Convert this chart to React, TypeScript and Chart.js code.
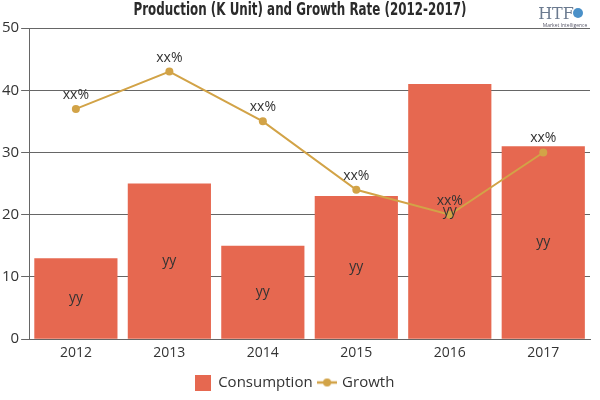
import React, { useEffect, useRef } from "react";
import { Chart, registerables } from "chart.js";

Chart.register(...registerables);

const categories = ["2012", "2013", "2014", "2015", "2016", "2017"];
const consumption = [13, 25, 15, 23, 41, 31];
const growth = [37, 43, 35, 24, 20, 30];
const barLabels = ["yy", "yy", "yy", "yy", "yy", "yy"];
const lineLabels = ["xx%", "xx%", "xx%", "xx%", "xx%", "xx%"];
const yTicks = [0, 10, 20, 30, 40, 50];
const titleText = "Production (K Unit) and Growth Rate (2012-2017)";

const BAR_COLOR = "#E66850";
const LINE_COLOR = "#D2A347";
const TEXT_COLOR = "#333333";
const FONT = "'Segoe UI', 'Open Sans', 'Noto Sans', sans-serif";

function makeIcon(kind: "box" | "line"): HTMLCanvasElement {
  const c = document.createElement("canvas");
  if (kind === "box") {
    c.width = 16;
    c.height = 16;
    const g = c.getContext("2d")!;
    g.fillStyle = BAR_COLOR;
    g.fillRect(0, 0, 16, 16);
  } else {
    c.width = 20;
    c.height = 10;
    const g = c.getContext("2d")!;
    g.strokeStyle = LINE_COLOR;
    g.lineWidth = 2.5;
    g.beginPath();
    g.moveTo(0, 5);
    g.lineTo(20, 5);
    g.stroke();
    g.fillStyle = LINE_COLOR;
    g.beginPath();
    g.arc(10, 5, 4, 0, Math.PI * 2);
    g.fill();
  }
  return c;
}

const labelPlugin = {
  id: "valueLabels",
  afterDatasetsDraw(chart: any) {
    const ctx = chart.ctx;
    ctx.save();
    ctx.font = `14px ${FONT}`;
    ctx.fillStyle = TEXT_COLOR;
    ctx.textAlign = "center";
    ctx.textBaseline = "middle";
    const barMeta = chart.getDatasetMeta(0);
    barMeta.data.forEach((el: any, i: number) => {
      const y = (el.y + el.base) / 2;
      ctx.fillText(barLabels[i], el.x, y);
    });
    const lineMeta = chart.getDatasetMeta(1);
    lineMeta.data.forEach((el: any, i: number) => {
      ctx.fillText(lineLabels[i], el.x, el.y - 14);
    });
    ctx.restore();
  },
};

const headerPlugin = {
  id: "header",
  afterDraw(chart: any) {
    const ctx = chart.ctx;
    ctx.save();
    ctx.fillStyle = "#2b2b2b";
    ctx.textAlign = "center";
    ctx.textBaseline = "middle";
    ctx.font = `bold 17px 'DejaVu Sans', sans-serif`;
    ctx.translate(300, 11);
    ctx.scale(0.7, 1);
    ctx.fillText(titleText, 0, 0);
    ctx.restore();

    ctx.save();
    ctx.fillStyle = "#6b7a8f";
    ctx.textAlign = "center";
    ctx.textBaseline = "alphabetic";
    ctx.font = `16px 'DejaVu Serif', serif`;
    ctx.fillText("HTF", 556, 19);
    ctx.fillStyle = "#4a90c8";
    ctx.beginPath();
    ctx.arc(578, 13, 5, 0, Math.PI * 2);
    ctx.fill();
    ctx.fillStyle = "#556";
    ctx.font = `5px ${FONT}`;
    ctx.fillText("Market Intelligence", 565, 27);
    ctx.restore();
  },
};

export default function App() {
  const ref = useRef<HTMLCanvasElement>(null);
  useEffect(() => {
    document.body.style.margin = "0";
    const chart = new Chart(ref.current!, {
      type: "bar",
      data: {
        labels: categories,
        datasets: [
          {
            type: "bar",
            label: "Consumption",
            data: consumption,
            backgroundColor: BAR_COLOR,
            categoryPercentage: 1,
            barPercentage: 0.89,
            order: 2,
          } as any,
          {
            type: "line",
            label: "Growth",
            data: growth,
            borderColor: LINE_COLOR,
            backgroundColor: LINE_COLOR,
            borderWidth: 2,
            pointRadius: 4,
            pointBackgroundColor: LINE_COLOR,
            pointBorderWidth: 0,
            tension: 0,
            order: 1,
          } as any,
        ],
      },
      options: {
        animation: false,
        responsive: false,
        layout: { padding: { left: 0, right: 10, top: 28, bottom: 0 } },
        plugins: {
          title: { display: false },
          legend: {
            position: "bottom",
            labels: {
              color: TEXT_COLOR,
              font: { family: FONT, size: 15 },
              usePointStyle: true,
              padding: 7,
              generateLabels: () => [
                { text: "Consumption", pointStyle: makeIcon("box"), fillStyle: BAR_COLOR, strokeStyle: BAR_COLOR, lineWidth: 0, datasetIndex: 0, fontColor: TEXT_COLOR } as any,
                { text: "Growth", pointStyle: makeIcon("line"), fillStyle: LINE_COLOR, strokeStyle: LINE_COLOR, lineWidth: 0, datasetIndex: 1, fontColor: TEXT_COLOR } as any,
              ],
            },
          },
          tooltip: { enabled: false },
        },
        scales: {
          x: {
            grid: { display: false, drawTicks: false },
            border: { display: true, color: "#666" },
            ticks: { color: TEXT_COLOR, font: { family: FONT, size: 14 }, padding: 5 },
            afterFit: (s: any) => {
              s.height += 2;
            },
          },
          y: {
            min: 0,
            max: 50,
            afterBuildTicks: (axis: any) => {
              axis.ticks = yTicks.map((v) => ({ value: v }));
            },
            grid: { color: "#666", lineWidth: 1, tickLength: 8 },
            border: { display: true, color: "#666" },
            ticks: { color: TEXT_COLOR, font: { family: FONT, size: 15 }, padding: 2 },
          },
        },
      },
      plugins: [labelPlugin, headerPlugin],
    });
    return () => chart.destroy();
  }, []);
  return <canvas ref={ref} width={600} height={400} style={{ display: "block" }} />;
}
